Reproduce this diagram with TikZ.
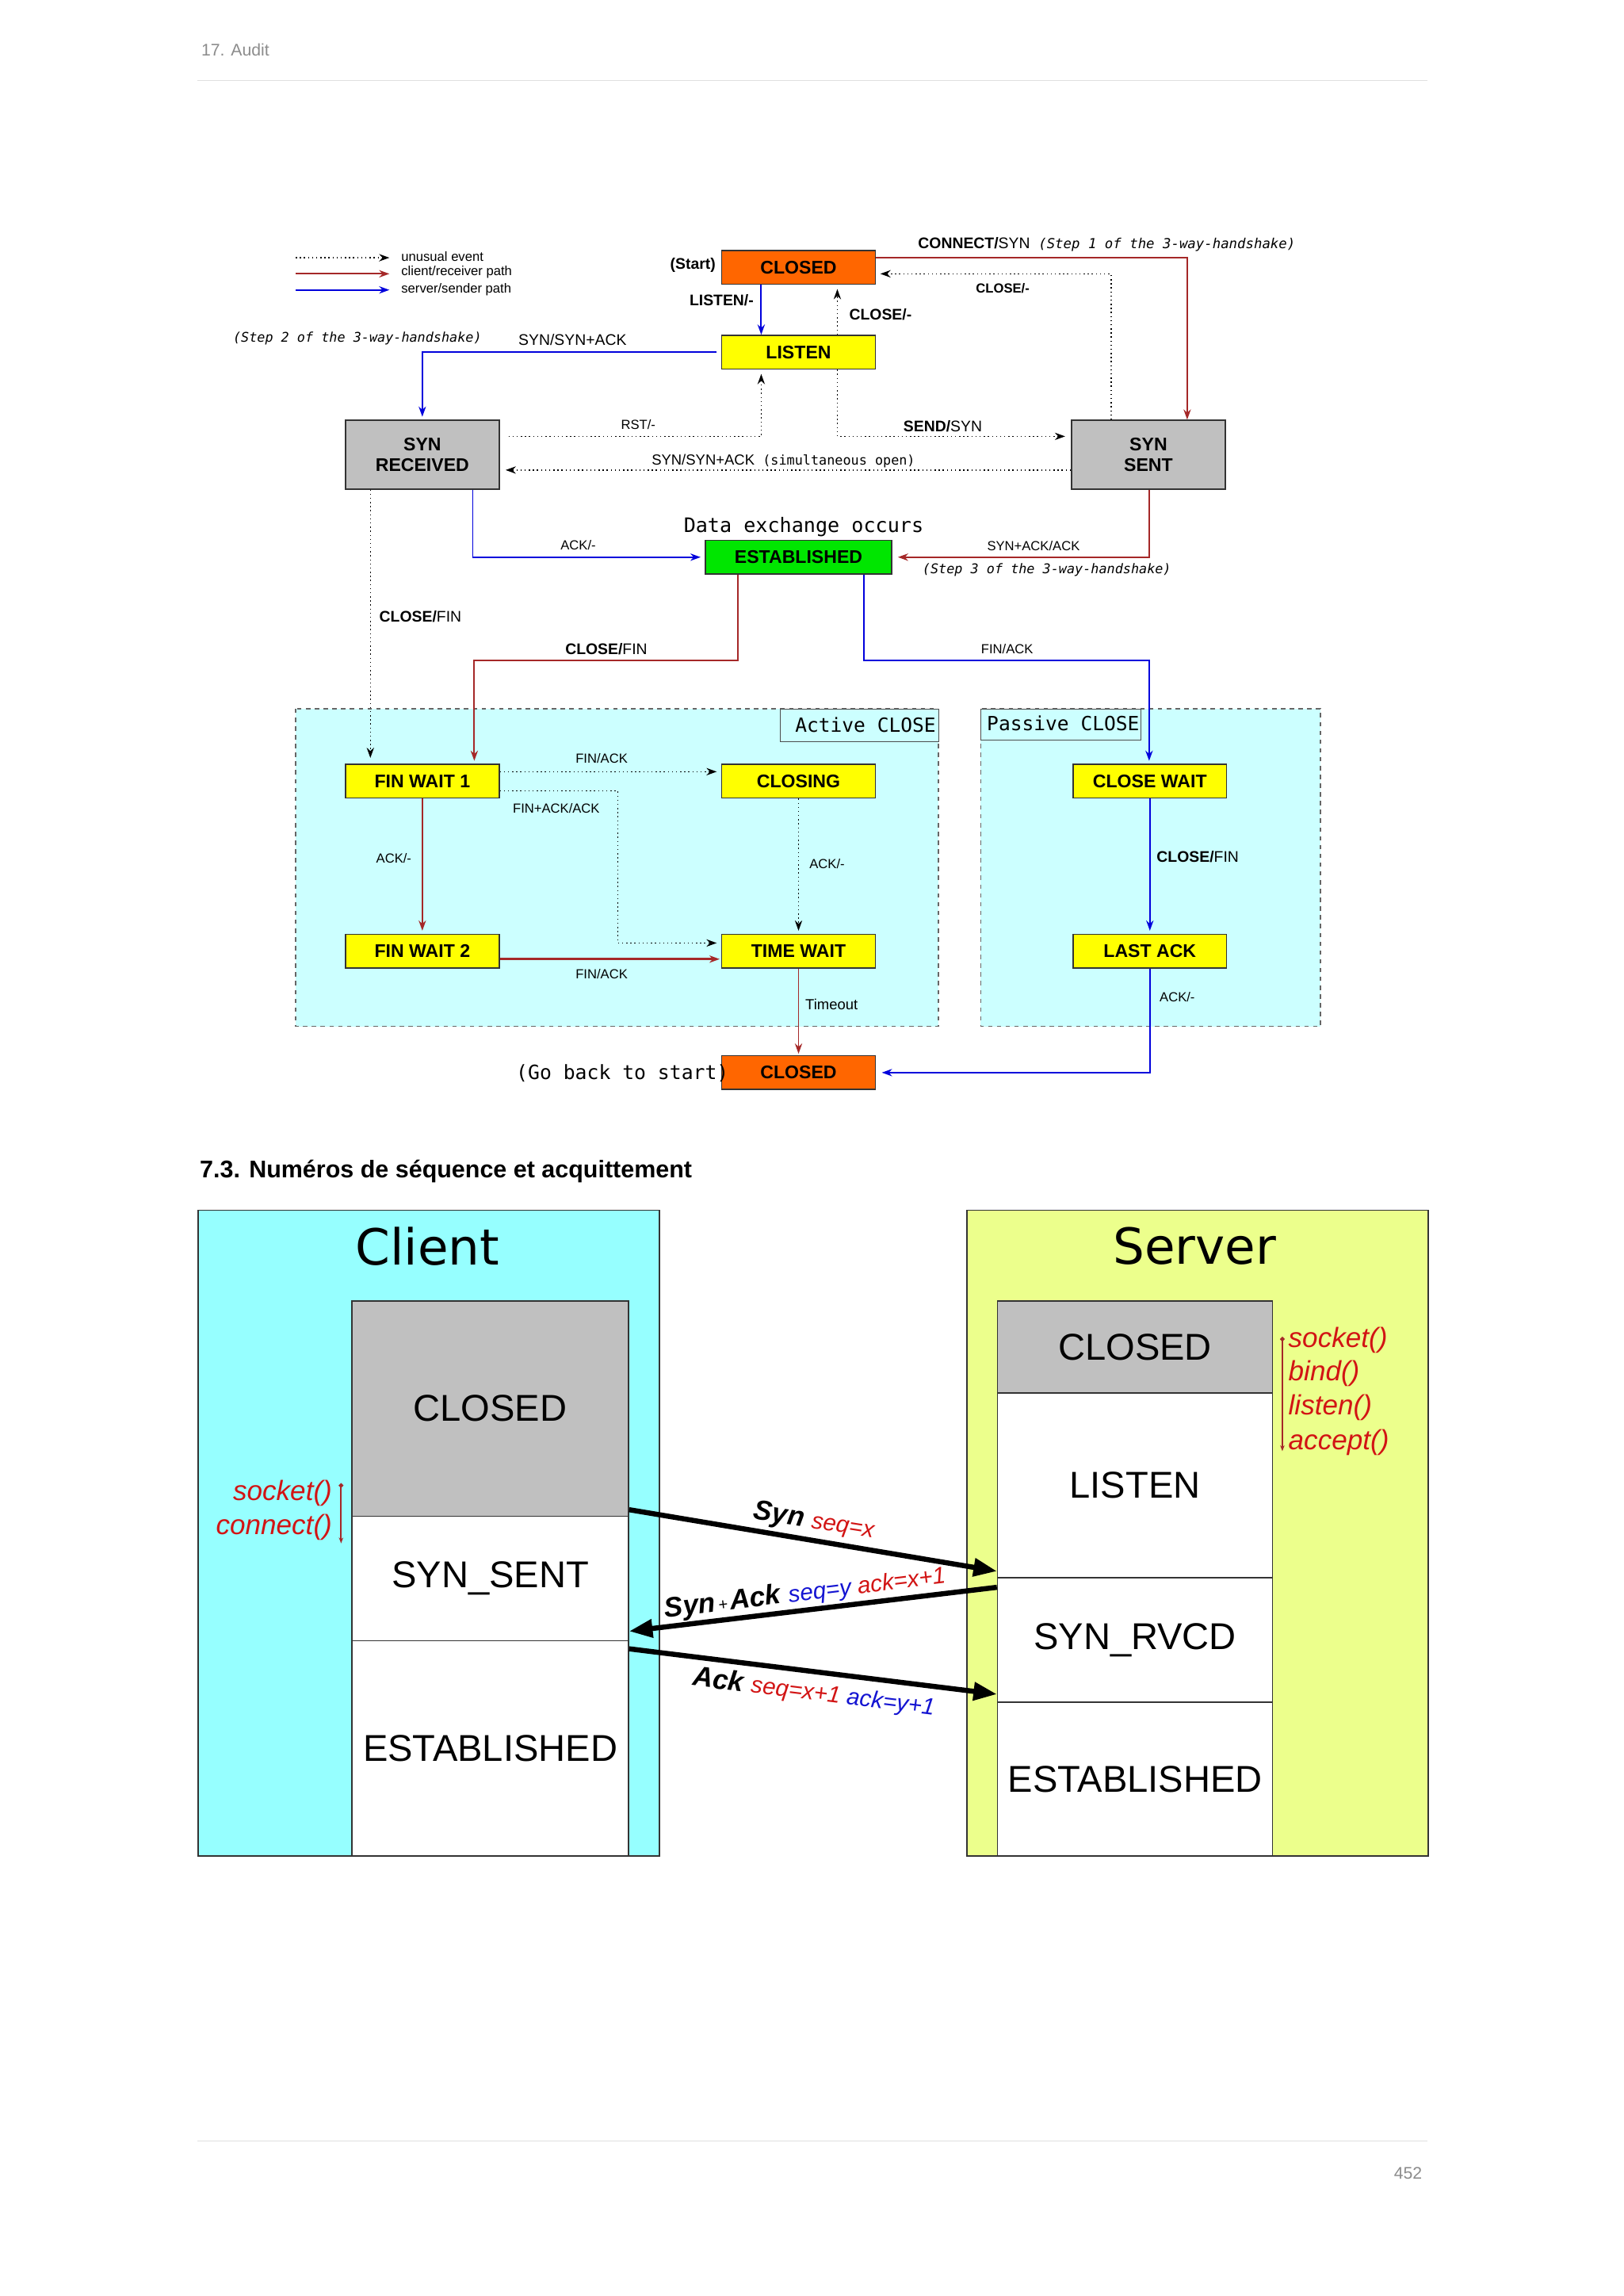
\documentclass[tikz,border=0pt]{standalone}
\usepackage{fontspec}
\setmainfont{Liberation Sans}
\newfontfamily\mono{DejaVu Sans Mono}
\newfontfamily\dejavu{DejaVu Sans}
\usetikzlibrary{arrows.meta}
\definecolor{cred}{RGB}{165,40,40}
\definecolor{cblue}{RGB}{0,0,220}
\definecolor{corange}{RGB}{255,102,0}
\definecolor{cyel}{RGB}{255,255,0}
\definecolor{cgreen}{RGB}{0,230,0}
\definecolor{cgray}{RGB}{192,192,192}
\definecolor{ccyan}{RGB}{204,255,255}
\definecolor{client}{RGB}{150,255,255}
\definecolor{server}{RGB}{236,255,140}
\definecolor{tred}{RGB}{210,20,20}
\definecolor{tblue}{RGB}{20,20,210}
\begin{document}
\begin{tikzpicture}[x=1pt,y=-1pt,
 st/.style={draw=black!80,line width=0.8pt,minimum width=105pt,minimum height=23pt,inner sep=0pt,font=\fontsize{12.5}{14}\selectfont\bfseries,align=center},
 tip/.style={-{Stealth[length=7pt,width=5pt]}},
 rd/.style={tip,draw=cred,line width=1pt},
 bl/.style={tip,draw=cblue,line width=1pt},
 dt/.style={tip,draw=black,dotted,line width=0.8pt},
 lb/.style={font=\fontsize{9}{10}\selectfont,inner sep=1pt},
 lbb/.style={font=\fontsize{9}{10}\selectfont\bfseries,inner sep=1pt},
 ms/.style={font=\mono\fontsize{9.1}{10}\selectfont\itshape,inner sep=1pt},
 big/.style={font=\fontsize{25.5}{26}\selectfont,inner sep=0pt},
 fa/.style={-{Triangle[length=16pt,width=12pt]},line width=3.5pt,draw=black},
 fn/.style={font=\fontsize{19}{20}\selectfont\itshape,text=tred,inner sep=0pt}]
\useasboundingbox (0,0) rectangle (1109,1568);
\fill[white] (0,0) rectangle (1109,1568);
% header/footer
\node[anchor=west,text=black!45,font=\fontsize{11.5}{12}\selectfont] (hdr) at (134,34) {17. Audit};
\draw[black!12,line width=0.6pt] (135,55) -- (975,55);
\draw[black!12,line width=0.6pt] (135,1462) -- (975,1462);
\node[anchor=east,text=black!45,font=\fontsize{11.5}{12}\selectfont] (pg) at (975,1484) {452};
\node[anchor=west,font=\fontsize{16.5}{17}\selectfont\bfseries] (sec) at (133,800) {7.3. Numéros de séquence et acquittement};

% regions
\draw[dashed,black!60,fill=ccyan,line width=0.8pt] (202,484) rectangle (641,701);
\draw[dashed,black!60,fill=ccyan,line width=0.8pt] (670,484) rectangle (902,701);
\node[draw=black!70,fill=ccyan,minimum width=108pt,minimum height=22pt,inner sep=0pt,anchor=north west] (act) at (533,484) {};
\node[font=\mono\fontsize{13.3}{14}\selectfont,anchor=west,inner sep=0] (actt) at (543,495) {Active CLOSE};
\node[draw=black!70,fill=ccyan,minimum width=109pt,minimum height=21pt,inner sep=0pt,anchor=north west] (pas) at (670,484) {};
\node[font=\mono\fontsize{13.3}{14}\selectfont,anchor=west,inner sep=0] (past) at (674,494) {Passive CLOSE};

% states
\node[st,fill=corange] (c1) at (545.5,182.5) {CLOSED};
\node[st,fill=cyel] (li) at (545.5,240.5) {LISTEN};
\node[st,fill=cgray,minimum height=47pt] (sr) at (288.5,310.5) {SYN\\RECEIVED};
\node[st,fill=cgray,minimum height=47pt] (ss) at (784.5,310.5) {SYN\\SENT};
\node[st,fill=cgreen,minimum width=127pt] (es) at (545.5,380.5) {ESTABLISHED};
\node[st,fill=cyel] (f1) at (288.5,533.5) {FIN WAIT 1};
\node[st,fill=cyel] (cl) at (545.5,533.5) {CLOSING};
\node[st,fill=cyel] (f2) at (288.5,649.5) {FIN WAIT 2};
\node[st,fill=cyel] (tw) at (545.5,649.5) {TIME WAIT};
\node[st,fill=cyel] (cw) at (785.5,533.5) {CLOSE WAIT};
\node[st,fill=cyel] (la) at (785.5,649.5) {LAST ACK};
\node[st,fill=corange] (c2) at (545.5,732.5) {CLOSED};

% legend
\coordinate (l1a) at (202,176); \coordinate (l1b) at (266,176);
\coordinate (l2a) at (202,187); \coordinate (l2b) at (266,187);
\coordinate (l3a) at (202,198); \coordinate (l3b) at (266,198);
\draw[dt] (l1a) -- (l1b); \draw[rd] (l2a) -- (l2b); \draw[bl] (l3a) -- (l3b);
\node[lb,anchor=west] (t1) at (273,175) {unusual event};
\node[lb,anchor=west] (t2) at (273,186) {client/receiver path};
\node[lb,anchor=west] (t3) at (273,198) {server/sender path};
\node[lbb,anchor=east,font=\fontsize{10.5}{11}\selectfont\bfseries] (start) at (490,181) {(Start)};

% edges
\draw[rd] (c1.east |- 0,176) -| (ss.north -| 811,0);
\node[anchor=west,inner sep=0] (lcs) at (627,167) {\fontsize{10.5}{11}\selectfont\bfseries CONNECT/\mdseries SYN\ \ \mono\fontsize{9.4}{10}\selectfont\itshape(Step 1 of the 3-way-handshake)};
\draw[dt] (ss.north -| 759,0) |- ([xshift=3pt]c1.east |- 0,187);
\node[lbb] (lc1) at (685,197) {CLOSE/-};
\draw[bl] (c1.south -| 520,0) -- (li.north -| 520,0);
\node[lbb,anchor=east,font=\fontsize{10.5}{11}\selectfont\bfseries] (lli) at (516,205) {LISTEN/-};
\draw[dt] (li.north -| 572,0) -- ([yshift=-3pt]c1.south -| 572,0);
\node[lbb,anchor=west,font=\fontsize{10.5}{11}\selectfont\bfseries] (lc2) at (579,215) {CLOSE/-};
\draw[bl] ([xshift=-3pt]li.west) -| ([yshift=2pt]sr.north);
\node[ms,anchor=west] (s2) at (158,231) {(Step 2 of the 3-way-handshake)};
\node[lb,anchor=west,font=\fontsize{10.5}{11}\selectfont] (lss) at (353,232) {SYN/SYN+ACK};
\draw[dt] ([xshift=6pt]sr.east |- 0,298) -| ([yshift=-3pt]li.south -| 520,0);
\node[lb] (lrst) at (436,290) {RST/-};
\draw[dt] (li.south -| 572,0) |- ([xshift=-4pt]ss.west |- 0,298);
\node[anchor=west,inner sep=0] (lsend) at (617,291) {\fontsize{10.5}{11}\selectfont\bfseries SEND/\mdseries SYN};
\draw[dt] (ss.west |- 0,321) -- ([xshift=4pt]sr.east |- 0,321);
\node[anchor=west,inner sep=0] (lsim) at (445,315) {\fontsize{10}{11}\selectfont SYN/SYN+ACK\ \ \mono\fontsize{9.1}{10}\selectfont(simultaneous open)};
\draw[bl] (sr.south -| 323,0) |- ([xshift=-3pt]es.west);
\node[lb] (lack) at (395,372) {ACK/-};
\node[font=\mono\fontsize{13.6}{14}\selectfont,inner sep=0] (dx) at (549,360) {Data exchange occurs};
\draw[rd] (ss.south -| 785,0) |- ([xshift=4pt]es.east);
\node[lb] (lsa) at (706,373) {SYN+ACK/ACK};
\node[ms,anchor=west] (s3) at (629,389) {(Step 3 of the 3-way-handshake)};
\draw[dt] (sr.south -| 253,0) -- ([yshift=4pt]f1.north -| 253,0);
\node[anchor=west,inner sep=0] (lcf1) at (259,421) {\fontsize{10.5}{11}\selectfont\bfseries CLOSE/\mdseries FIN};
\draw[rd] (es.south -| 504,0) |- (0,451 -| 324,0) -- ([yshift=2pt]f1.north -| 324,0);
\node[anchor=west,inner sep=0] (lcf2) at (386,443) {\fontsize{10.5}{11}\selectfont\bfseries CLOSE/\mdseries FIN};
\draw[bl] (es.south -| 590,0) |- (0,451 -| 785,0) -- ([yshift=2pt]cw.north -| 785,0);
\node[lb] (lfa) at (688,443) {FIN/ACK};
\draw[dt] (f1.east |- 0,527) -- ([xshift=-3pt]cl.west |- 0,527);
\node[lb] (lfa2) at (411,518) {FIN/ACK};
\draw[dt] (f1.east |- 0,540) -| (0,644 -| 422,0) -- ([xshift=-3pt]tw.west |- 0,644);
\node[lb] (lfaa) at (380,552) {FIN+ACK/ACK};
\draw[rd] (f1.south) -- ([yshift=2pt]f2.north);
\node[lb] (lack2) at (269,586) {ACK/-};
\draw[dt] (cl.south) -- ([yshift=2pt]tw.north);
\node[lb] (lack3) at (565,590) {ACK/-};
\draw[rd,line width=1.8pt] (f2.east |- 0,655) -- ([xshift=-1pt]tw.west |- 0,655);
\node[lb] (lfa3) at (411,665) {FIN/ACK};
\draw[bl] (cw.south) -- ([yshift=2pt]la.north);
\node[anchor=west,inner sep=0] (lcf3) at (790,585) {\fontsize{10.5}{11}\selectfont\bfseries CLOSE/\mdseries FIN};
\draw[rd] (tw.south) -- ([yshift=1pt]c2.north);
\node[lb,anchor=west,font=\fontsize{10}{11}\selectfont] (lto) at (549,686) {Timeout};
\draw[bl] (la.south) |- ([xshift=4pt]c2.east);
\node[lb,anchor=west] (lack4) at (791,681) {ACK/-};
\node[font=\mono\fontsize{13.4}{14}\selectfont,anchor=east,inner sep=0] (gb) at (498,733) {(Go back to start)};

% ---- sequence diagram ----
\node[draw=black!80,fill=client,line width=1pt,minimum width=315pt,minimum height=441pt,inner sep=0,anchor=north west] (cp) at (135,826) {};
\node[draw=black!80,fill=server,line width=1pt,minimum width=315pt,minimum height=441pt,inner sep=0,anchor=north west] (sp) at (660,826) {};
\node[font=\dejavu\fontsize{34}{35}\selectfont,inner sep=0] (ct) at (292,851) {Client};
\node[font=\dejavu\fontsize{34}{35}\selectfont,inner sep=0] (stt) at (816,851) {Server};
% client column
\node[draw=black!80,fill=cgray,line width=0.8pt,minimum width=189pt,minimum height=147pt,inner sep=0,anchor=north west,big] (ccl) at (240,888) {CLOSED};
\node[draw=black!80,fill=white,line width=0.8pt,minimum width=189pt,minimum height=85pt,inner sep=0,anchor=north west,big] (css) at (240,1035) {SYN\_SENT};
\node[draw=black!80,fill=white,line width=0.8pt,minimum width=189pt,minimum height=147pt,inner sep=0,anchor=north west,big] (ces) at (240,1120) {ESTABLISHED};
% server column
\node[draw=black!80,fill=cgray,line width=0.8pt,minimum width=188pt,minimum height=63pt,inner sep=0,anchor=north west,big] (scl) at (681,888) {CLOSED};
\node[draw=black!80,fill=white,line width=0.8pt,minimum width=188pt,minimum height=126pt,inner sep=0,anchor=north west,big] (sli) at (681,951) {LISTEN};
\node[draw=black!80,fill=white,line width=0.8pt,minimum width=188pt,minimum height=85pt,inner sep=0,anchor=north west,big] (srv) at (681,1077) {SYN\_RVCD};
\node[draw=black!80,fill=white,line width=0.8pt,minimum width=188pt,minimum height=105pt,inner sep=0,anchor=north west,big] (ses) at (681,1162) {ESTABLISHED};
% arrows
\draw[fa] (css.north east |- 0,1031) -- (srv.north west |- 0,1073);
\draw[fa] (srv.north west |- 0,1084) -- (css.south east |- 0,1114);
\draw[fa] (ces.north east |- 0,1126) -- (srv.south west |- 0,1157);
\node[rotate=-9,inner sep=0] (m1) at (556,1039) {\fontsize{19}{20}\selectfont\itshape\bfseries Syn \mdseries\fontsize{16}{17}\selectfont\color{tred} seq=x};
\node[rotate=7,inner sep=0] (m2) at (550,1088) {\fontsize{19}{20}\selectfont\itshape\bfseries Syn\mdseries\fontsize{11}{12}\selectfont\,+\,\fontsize{19}{20}\selectfont\bfseries Ack \mdseries\fontsize{16}{17}\selectfont\color{tblue}seq=y \color{tred}ack=x+1};
\node[rotate=-7,inner sep=0] (m3) at (556,1156) {\fontsize{19}{20}\selectfont\itshape\bfseries Ack \mdseries\fontsize{16}{17}\selectfont\color{tred}seq=x+1 \color{tblue}ack=y+1};
% function calls
\node[fn,anchor=east] (fs) at (227,1020) {socket()};
\node[fn,anchor=east] (fc) at (227,1043) {connect()};
\coordinate (ca) at (233,1013); \coordinate (cb) at (233,1054);
\draw[cred,line width=1pt,{Circle[length=3pt]}-{Stealth[length=4pt]}] (ca) -- (cb);
\node[fn,anchor=west] (s1) at (880,915) {socket()};
\node[fn,anchor=west] (s2b) at (880,938) {bind()};
\node[fn,anchor=west] (s3b) at (880,961) {listen()};
\node[fn,anchor=west] (s4) at (880,985) {accept()};
\coordinate (sa) at (876,913); \coordinate (sb) at (876,991);
\draw[cred,line width=1pt,{Circle[length=3pt]}-{Stealth[length=4pt]}] (sa) -- (sb);
\end{tikzpicture}
\end{document}
